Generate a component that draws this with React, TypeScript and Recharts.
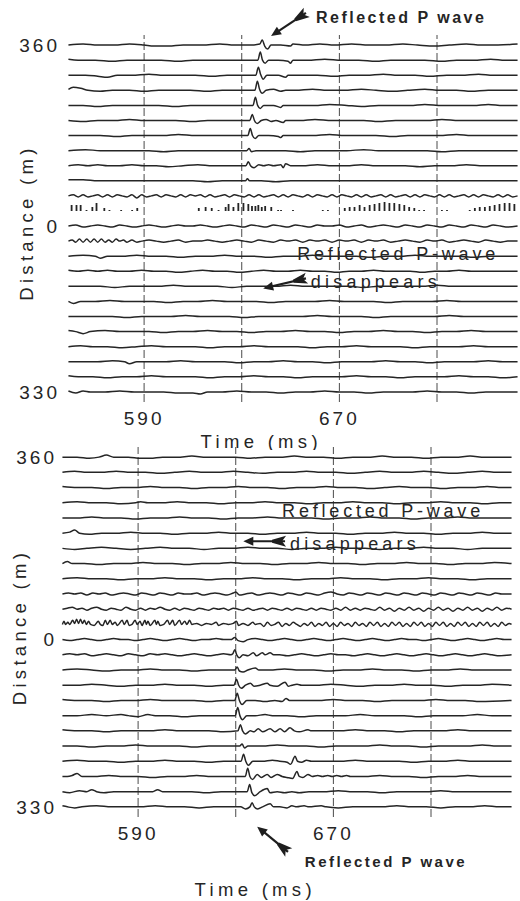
import React from "react";
import {
  LineChart,
  Line,
  XAxis,
  YAxis,
  ReferenceLine,
  ReferenceDot,
} from "recharts";

type Vertex = [number, number];

const INK = "#252525";
const FONT = "'Liberation Sans', Arial, sans-serif";
const GAIN = 2; // metres of offset per unit of trace amplitude

// Time axis (ms)
const timeDomain = [558, 744];
const timeGrid = [590, 630, 670, 710];
const timeLabels = [590, 670];

// Receiver distance (m): above the source row positive, below negative, labelled by size
const offsets = [
  360, 330, 300, 270, 240, 210, 180, 150, 120, 90, 60, 30, 0, -30, -60, -90, -120,
  -150, -180, -210, -240, -270, -300, -330,
];
const distanceTicks = [360, 0, -330];
const distanceDomain = [-350, 380];

// Upper record: traces as [time ms, amplitude] vertices, row at 30 m is a spike row
const upperTraces: (Vertex[] | null)[] = [
  [[559,0],[565,1],[571,0],[578,0],[584,1],[590,0],[594,-1],[600,-1],[606,0],[614,0],[621,1],[627,0],[634,0],[637.4,1],[638.4,5],[639.4,-1],[640.6,-4],[642,0],[646,0],[650,-1],[651,1],[656,0],[662,1],[668,0],[675,1],[682,0],[689,0],[696,1],[702,0],[709,-1],[715,0],[722,1],[728,0],[735,0],[743,1]],
  [[559,1],[563,0],[570,0],[577,-1],[583,0],[590,0],[597,0],[604,-1],[610,0],[617,0],[624,0],[631,0],[636.6,0],[637.6,8],[638.5,0],[639.6,-3],[641,0],[645,0],[649,-1],[650,-3],[651,0],[657,0],[664,1],[671,0],[678,0],[685,-1],[691,0],[698,0],[705,0],[712,-1],[718,0],[725,0],[732,1],[738,0],[743,0]],
  [[559,0],[566,0],[571,-1],[575,-2],[579,0],[585,0],[592,1],[598,0],[605,0],[611,0],[618,-1],[624,0],[630,0],[635.8,0],[636.8,8],[637.7,1],[638.8,-4],[640.3,0],[645,0],[648,-2],[649,0],[655,0],[661,0],[668,-1],[674,0],[681,0],[688,1],[694,0],[701,0],[707,-1],[714,0],[720,0],[727,1],[733,0],[743,0]],
  [[559,1],[561,3],[564,2],[567,0],[572,-1],[577,0],[584,0],[590,-1],[596,0],[603,0],[609,0],[616,-1],[622,0],[629,0],[635.4,0],[636.4,9],[637.3,1],[638.4,-3],[640,0],[643,1],[646,-1],[648,0],[652,0],[659,1],[665,0],[672,0],[679,1],[685,0],[692,-1],[698,0],[705,1],[711,0],[718,0],[724,-1],[731,0],[743,0]],
  [[559,0],[565,0],[571,-1],[577,0],[583,0],[590,0],[596,0],[603,-1],[609,0],[616,0],[622,0],[629,0],[634.6,0],[635.6,8],[636.5,0],[637.6,-3],[639,0],[643,0],[646,-2],[647,0],[653,0],[660,0],[666,1],[673,0],[679,-1],[686,0],[692,0],[699,0],[705,1],[712,0],[718,0],[725,0],[731,1],[737,0],[743,0]],
  [[559,0],[565,-1],[571,0],[578,0],[584,1],[590,0],[597,0],[603,0],[610,-1],[616,0],[623,0],[629,0],[633.3,0],[634.3,6],[635.2,0],[636.3,-3],[638,0],[640,1],[642,-1],[644,0],[647,-2],[648,0],[654,0],[660,1],[667,0],[673,0],[680,0],[686,-1],[693,0],[699,0],[706,0],[712,1],[719,0],[725,0],[732,0],[743,0]],
  [[559,0],[566,0],[572,0],[579,-1],[585,0],[592,0],[598,0],[604,1],[611,0],[617,0],[624,0],[630,0],[632.5,0],[633.5,7],[634.4,0],[635.5,-3],[637,0],[641,0],[645,-1],[646,-2],[647,0],[653,0],[659,0],[666,1],[672,0],[679,0],[685,0],[692,-1],[698,0],[705,0],[711,0],[718,1],[724,0],[731,0],[743,0]],
  [[559,0],[566,1],[572,0],[579,0],[585,0],[592,0],[598,-1],[604,0],[611,0],[617,0],[624,0],[630,0],[632,0],[633,2],[634,-1],[636,0],[642,0],[648,0],[654,-1],[660,0],[667,0],[673,0],[680,1],[686,0],[693,0],[699,0],[706,0],[712,-1],[719,0],[725,0],[732,0],[743,0]],
  [[559,0],[563,1],[567,0],[571,1],[575,0],[580,0],[585,1],[590,0],[595,0],[600,-1],[606,0],[612,1],[618,0],[624,0],[629,0],[631.7,0],[632.7,4],[633.6,0],[635,-2],[637,1],[639,0],[641,1],[643,0],[646,1],[647,-2],[648,2],[650,0],[655,0],[661,1],[667,0],[673,0],[679,1],[685,0],[691,0],[697,0],[703,-1],[709,0],[716,0],[722,1],[729,0],[743,0]],
  [[559,1],[565,1],[571,0],[578,0],[584,0],[590,0],[597,0],[603,0],[610,0],[616,-1],[622,0],[628,0],[631.5,0],[632.3,2],[633.2,0],[638,0],[644,-1],[650,0],[657,0],[663,0],[670,0],[676,0],[683,0],[689,0],[696,0],[702,0],[709,0],[715,0],[722,0],[728,0],[743,0]],
  [[559,0],[561,1],[563,-1],[565,1],[567,-1],[569,0],[571,1],[573,-1],[575,1],[577,-1],[579,1],[581,0],[583,-1],[585,1],[587,-2],[589,1],[591,-1],[593,0],[595,1],[597,-1],[599,1],[601,0],[603,-1],[605,1],[607,-1],[609,1],[611,0],[613,1],[615,-1],[617,1],[619,-1],[621,0],[623,1],[625,-1],[627,1],[629,0],[631,-1],[633,1],[635,-1],[637,1],[639,-1],[641,0],[643,1],[645,-1],[647,1],[649,-1],[651,1],[653,0],[655,-1],[657,1],[659,-1],[661,1],[663,0],[665,-1],[667,1],[669,-1],[671,1],[673,0],[675,-1],[677,1],[679,-1],[681,1],[683,-1],[685,0],[687,1],[689,-1],[691,1],[693,-1],[695,0],[697,1],[699,-1],[701,1],[703,-1],[705,1],[707,0],[709,-1],[711,1],[713,-1],[715,1],[717,-1],[719,0],[721,1],[723,-1],[725,1],[727,-1],[729,1],[731,0],[733,-1],[735,1],[737,-1],[739,1],[741,-1],[743,0]],
  null,
  [[559,0],[562,1],[565,-1],[568,0],[571,1],[574,0],[577,-1],[580,1],[583,0],[586,-1],[589,0],[592,1],[595,0],[598,-1],[601,0],[604,1],[607,0],[610,0],[613,1],[616,0],[619,-1],[622,0],[625,1],[628,0],[631,-1],[634,1],[637,0],[640,-1],[643,1],[646,0],[649,-1],[652,1],[655,0],[658,-1],[661,1],[664,0],[667,0],[670,1],[673,-1],[676,0],[679,1],[682,-1],[685,0],[688,1],[691,0],[694,-1],[697,1],[700,0],[703,-1],[706,1],[709,0],[712,-1],[715,1],[718,0],[721,-1],[724,1],[727,0],[730,-1],[733,1],[736,0],[739,-1],[743,0]],
  [[559,0],[560.5,1],[562,-1],[563.5,2],[565,-1],[566.5,2],[568,-1],[569.5,2],[571,-1],[572.5,2],[574,-1],[575.5,1],[577,-1],[578.5,2],[580,0],[581.5,1],[583,-1],[585,1],[587,-1],[589,0],[592,1],[595,0],[598,-1],[601,0],[604,1],[607,-1],[610,0],[613,0],[616,1],[619,0],[622,-1],[625,0],[628,1],[631,0],[634,-1],[637,1],[640,0],[643,-1],[646,1],[649,0],[652,1],[655,-1],[658,1],[661,0],[664,1],[667,-1],[670,1],[673,0],[676,1],[679,-1],[682,1],[685,0],[688,1],[691,-1],[694,0],[697,1],[700,0],[703,-1],[706,1],[709,0],[712,1],[715,-1],[718,0],[721,1],[724,0],[727,-1],[730,1],[733,0],[736,-1],[739,0],[743,0]],
  [[559,0],[565,1],[570,0],[572,-2],[575,0],[581,0],[587,1],[593,0],[599,0],[605,-1],[611,0],[617,0],[623,1],[629,0],[635,0],[641,-1],[647,0],[653,0],[659,1],[665,0],[671,0],[677,0],[683,-1],[689,0],[695,0],[701,1],[707,0],[713,0],[719,0],[725,-1],[731,0],[737,0],[743,0]],
  [[559,1],[563,0],[567,1],[571,0],[575,1],[579,0],[584,0],[589,1],[594,0],[599,0],[604,-1],[609,0],[614,1],[619,0],[624,0],[629,-1],[634,0],[639,1],[644,0],[649,0],[654,1],[659,0],[664,0],[669,-1],[674,0],[679,0],[684,1],[689,0],[694,0],[699,0],[704,-1],[709,0],[714,0],[719,1],[724,0],[729,0],[734,0],[743,0]],
  [[559,0],[566,0],[572,0],[578,-1],[584,0],[590,0],[596,0],[602,1],[608,0],[614,0],[620,0],[626,-1],[632,0],[638,0],[644,0],[650,1],[656,0],[662,0],[668,0],[674,0],[680,-1],[686,0],[692,0],[698,0],[704,0],[710,1],[716,0],[722,0],[728,0],[734,0],[743,0]],
  [[559,0],[561,-2],[564,0],[570,0],[576,1],[582,0],[588,0],[594,0],[600,-1],[606,0],[612,0],[618,1],[624,0],[630,0],[636,0],[642,-1],[648,0],[654,0],[660,0],[666,1],[672,0],[678,0],[684,0],[690,-1],[696,0],[702,0],[708,0],[714,1],[720,0],[726,0],[732,0],[743,0]],
  [[559,0],[565,0],[571,0],[577,0],[583,-1],[589,0],[595,0],[601,0],[607,1],[613,0],[619,0],[625,0],[631,-1],[637,0],[643,0],[649,0],[655,0],[661,1],[667,0],[673,0],[679,0],[685,-1],[691,0],[697,0],[703,0],[709,0],[715,1],[721,0],[727,0],[733,0],[743,0]],
  [[559,1],[562,0],[565,-2],[568,0],[574,1],[580,0],[586,0],[592,0],[598,-1],[604,0],[610,0],[616,1],[622,0],[628,0],[634,-1],[640,0],[646,0],[652,1],[658,0],[664,0],[670,-1],[676,0],[682,0],[688,1],[694,0],[700,0],[706,-1],[712,0],[718,0],[724,1],[730,0],[736,0],[743,0]],
  [[559,0],[564,1],[569,0],[575,0],[581,-1],[587,0],[593,1],[599,0],[605,0],[611,0],[617,-1],[623,0],[629,0],[635,1],[641,0],[647,0],[653,0],[659,-1],[665,0],[671,0],[677,1],[683,0],[689,0],[695,0],[701,-1],[707,0],[713,0],[719,0],[725,1],[731,0],[737,0],[743,0]],
  [[559,0],[565,0],[571,0],[577,1],[582,0],[584,-2],[587,0],[593,0],[599,0],[605,1],[611,0],[617,0],[623,0],[629,-1],[635,0],[641,0],[647,1],[653,0],[659,0],[665,-1],[671,0],[677,0],[683,0],[689,1],[695,0],[701,0],[707,-1],[713,0],[719,0],[725,0],[731,1],[737,0],[743,0]],
  [[559,1],[563,0],[569,0],[575,-1],[581,0],[587,0],[593,1],[599,0],[605,0],[611,0],[617,-1],[623,0],[629,0],[635,1],[641,0],[647,0],[653,-1],[659,0],[665,0],[671,0],[677,1],[683,0],[689,0],[695,-1],[701,0],[707,0],[713,0],[719,1],[725,0],[731,0],[737,-1],[743,0]],
  [[559,1],[562,-1],[565,1],[568,0],[574,0],[580,1],[586,0],[592,0],[598,0],[604,-1],[610,-1],[613,-2],[616,0],[622,0],[628,1],[634,0],[640,0],[646,-1],[652,0],[658,0],[664,1],[670,0],[676,0],[682,-1],[688,0],[694,0],[700,0],[706,1],[712,0],[718,0],[724,-1],[730,0],[736,0],[743,0]],
];

// Spike row of the upper record (30 m): [time ms, spike height]
const upperSpikeOffset = 30;
const upperSpikes: Vertex[] = [
  [560.3,6],[562.3,6],[564.0,6],[566.4,1],[568.8,4],[570.5,8],[573.7,3],[575.8,1],[580.6,1],[585.1,1],[587.2,3],
  [612.4,3],[615.2,4],[617.7,3],[620.5,1],[623.4,4],[624.6,7],[626.6,4],[628.6,8],[630.7,8],[632.7,7],[634.2,5],[635.6,5],[636.8,6],[638.2,4],[639.6,5],[642.1,4],[644.9,1],
  [646.1,1],[651.0,1],[663.2,1],[665.3,1],
  [672.2,3],[674.2,4],[676.2,4],[678.3,6],[680.3,4],[682.4,6],[684.4,7],[686.4,8],[688.5,9],[690.5,8],[692.5,8],[694.6,7],[696.6,6],[698.6,4],[700.7,3],[702.7,1],[704.7,1],
  [712.0,1],[714.1,1],[723.4,1],[725.5,3],[727.5,4],[729.6,4],[731.6,5],[733.6,6],[735.6,7],[737.7,8],[739.7,8],[741.7,7],
];

// Lower record
const lowerTraces: Vertex[][] = [
  [[559,0],[565,0],[570,-1],[574,0],[577,2],[580,0],[586,0],[591,-1],[595,-1],[600,0],[606,0],[612,1],[618,0],[624,0],[630,0],[636,-1],[642,0],[648,0],[654,1],[660,0],[666,0],[672,-1],[678,0],[684,0],[690,1],[696,0],[702,0],[708,-1],[714,0],[720,0],[726,1],[732,0],[738,0],[743,0]],
  [[559,0],[564,1],[569,0],[575,0],[581,1],[587,0],[593,0],[599,-1],[605,0],[611,1],[617,0],[623,0],[629,1],[635,0],[641,-1],[647,0],[653,0],[659,1],[665,0],[671,0],[677,-1],[683,0],[689,1],[695,0],[701,0],[707,1],[713,0],[719,-1],[725,0],[731,1],[737,0],[743,0]],
  [[559,1],[565,0],[571,0],[577,-1],[583,0],[589,0],[595,1],[601,0],[607,0],[613,-1],[619,0],[625,0],[631,1],[637,0],[643,0],[649,-1],[655,0],[661,0],[667,1],[673,0],[679,0],[685,-1],[691,0],[697,1],[703,0],[709,0],[715,-1],[721,0],[727,0],[733,1],[739,0],[743,0]],
  [[559,0],[565,1],[571,0],[577,0],[583,-1],[589,0],[591,1],[594,0],[600,0],[606,1],[612,0],[618,0],[624,-1],[630,0],[636,0],[642,1],[648,0],[654,0],[660,-1],[666,0],[672,0],[678,1],[684,0],[690,0],[696,-1],[702,0],[708,0],[714,1],[720,0],[726,0],[732,-1],[738,0],[743,0]],
  [[559,0],[565,0],[571,1],[577,0],[583,0],[589,-1],[595,0],[601,0],[607,1],[613,0],[619,0],[625,-1],[631,0],[637,0],[643,1],[649,0],[655,0],[661,0],[667,-1],[673,0],[679,0],[685,1],[691,0],[697,0],[703,-1],[709,0],[715,0],[721,1],[727,0],[733,0],[743,0]],
  [[559,0],[562,1],[564,3],[566,0],[570,-1],[575,0],[581,0],[587,1],[593,0],[599,0],[605,-1],[611,0],[617,0],[623,1],[629,0],[635,0],[641,-1],[647,0],[653,0],[659,1],[665,0],[671,0],[677,-1],[683,0],[689,0],[695,1],[701,0],[707,0],[713,-1],[719,0],[725,0],[731,1],[737,0],[743,0]],
  [[559,0],[564,-1],[569,0],[575,1],[581,0],[587,-1],[593,0],[599,1],[605,0],[611,0],[617,-1],[623,0],[629,0],[635,1],[641,0],[647,0],[653,-1],[659,0],[665,0],[671,1],[677,0],[683,0],[689,-1],[695,0],[701,0],[707,1],[713,0],[719,0],[725,-1],[731,0],[737,0],[743,0]],
  [[559,0],[561,2],[563,0],[568,0],[574,-1],[580,0],[586,0],[592,1],[598,0],[604,0],[610,-1],[616,0],[622,0],[628,1],[634,0],[640,0],[646,-1],[652,0],[658,0],[664,1],[670,0],[676,0],[682,-1],[688,0],[694,0],[700,1],[706,0],[712,0],[718,-1],[724,0],[730,0],[736,1],[743,0]],
  [[559,0],[565,1],[571,0],[577,0],[583,-1],[589,0],[595,0],[601,1],[607,0],[613,0],[619,-1],[625,0],[631,0],[637,1],[643,0],[649,0],[655,-1],[661,0],[667,0],[673,1],[679,0],[685,0],[691,-1],[697,0],[703,0],[709,1],[715,0],[721,0],[727,-1],[733,0],[743,0]],
  [[559,0],[561.5,1],[564,0],[566.5,1],[569,-1],[571.5,1],[574,0],[576.5,1],[579,-1],[581.5,0],[584,1],[586.5,0],[589,-1],[591.5,1],[594,0],[596.5,-1],[599,1],[601.5,0],[604,-1],[606.5,1],[609,0],[611.5,0],[614,1],[616.5,-1],[619,0],[621.5,1],[624,0],[626.5,-1],[629,1],[630,2],[631.5,-1],[634,0],[636.5,1],[639,-1],[641.5,0],[644,1],[646.5,0],[649,-1],[651.5,1],[654,0],[656.5,-1],[659,1],[661.5,0],[664,-1],[666.5,1],[669,2],[671.5,0],[674,-1],[676.5,1],[679,0],[681.5,-1],[684,1],[686.5,0],[689,-1],[691.5,1],[694,0],[696.5,-1],[699,1],[701.5,0],[704,-1],[706.5,1],[709,0],[711.5,-1],[714,1],[716.5,0],[719,-1],[721.5,1],[724,0],[726.5,-1],[729,1],[731.5,0],[734,-1],[736.5,1],[739,0],[743,0]],
  [[559,0],[561,1],[563,2],[565,0],[567,1],[569,-1],[571,1],[573,2],[575,0],[577,-1],[579,1],[581,0],[583,-1],[585,2],[587,0],[589,-1],[591,1],[593,-1],[595,1],[597,0],[599,2],[601,0],[603,-1],[605,1],[607,-1],[609,1],[611,0],[613,-1],[615,1],[617,0],[619,-1],[621,1],[623,0],[625,1],[627,-1],[629,1],[631,0],[633,-1],[635,1],[637,-1],[639,0],[641,1],[643,-1],[645,1],[647,0],[649,-1],[651,1],[653,-1],[655,1],[657,0],[659,-1],[661,1],[663,-1],[665,1],[667,0],[669,-1],[671,1],[673,-1],[675,2],[677,-1],[679,1],[681,-1],[683,1],[685,0],[687,-1],[689,2],[691,-1],[693,1],[695,-2],[697,1],[699,-1],[701,2],[703,-1],[705,1],[707,-2],[709,1],[711,-1],[713,2],[715,-1],[717,1],[719,-2],[721,1],[723,-1],[725,2],[727,-1],[729,1],[731,-2],[733,1],[735,-1],[737,2],[739,-1],[741,1],[743,0]],
  [[559,0],[559.6,3],[560.3,0],[561.2,2],[562,0],[563.2,4],[564,1],[564.8,5],[565.6,1],[566.4,5],[567.2,1],[568,4],[568.8,0],[569.7,3],[570.5,0],[572,-1],[573.7,3],[574.5,0],[575.5,-1],[576.6,4],[577.4,0],[578.6,4],[579.4,0],[580.6,2],[581.5,-1],[583.5,4],[584.3,0],[585.5,4],[586.3,-1],[587.5,0],[588.8,4],[589.6,0],[590.8,3],[591.6,-1],[592.8,4],[593.4,0],[594,3],[595,-1],[596.9,4],[597.5,0],[598.1,3],[599,-1],[600.5,0],[602.1,4],[602.9,0],[604.2,4],[605,-1],[607,4],[607.8,0],[609.1,3],[610,0],[611.1,4],[612,0],[614,1],[616,-1],[618,1],[620,0],[622,2],[623,-1],[625,1],[627,0],[629,1],[630.3,3],[631.2,-1],[633,1],[635,-1],[637,2],[638,0],[640,1],[641.5,-2],[643,2],[644.5,-1],[646,0],[647.5,2],[649,-2],[650.5,1],[652,-1],[653.5,2],[655,0],[656.5,-2],[658,1],[659.5,-1],[661,2],[662.5,-2],[664,1],[665.5,-1],[667,2],[668.5,-2],[670,1],[671.5,-2],[673,2],[674.5,-1],[676,1],[677.5,-2],[679,2],[680.5,-1],[682,1],[683.5,-2],[685,2],[686.5,-1],[688,2],[689.5,-2],[691,1],[692.5,-2],[694,2],[695.5,-1],[697,2],[698.5,-2],[700,1],[701.5,-2],[703,2],[704.5,-1],[706,2],[707.5,-2],[709,1],[710.5,-2],[712,2],[713.5,-1],[715,2],[716.5,-2],[718,1],[719.5,-2],[721,2],[722.5,-1],[724,2],[725.5,-2],[727,1],[728.5,-2],[730,2],[731.5,-1],[733,2],[734.5,-2],[736,1],[737.5,-2],[739,2],[740.5,-1],[742,1],[743,0]],
  [[559,0],[562,-1],[565,0],[568,1],[571,0],[574,-1],[577,0],[580,1],[583,0],[586,0],[589,-1],[592,0],[595,1],[598,0],[601,-1],[604,0],[607,1],[610,0],[613,-1],[616,0],[619,0],[622,1],[625,0],[628,0],[629.6,2],[631,-1],[633,-2],[635,0],[638,1],[641,0],[644,-1],[647,0],[650,1],[653,0],[656,-1],[659,0],[662,1],[665,0],[668,-1],[671,0],[674,1],[677,0],[680,-1],[683,0],[686,1],[689,0],[692,-1],[695,0],[698,1],[701,0],[704,0],[707,-1],[710,0],[713,1],[716,0],[719,-1],[722,0],[725,1],[728,0],[731,-1],[734,0],[737,1],[740,0],[743,0]],
  [[559,0],[562,1],[565,0],[568,1],[571,-1],[574,0],[577,1],[580,0],[583,-1],[586,1],[589,0],[592,-1],[595,1],[598,0],[601,1],[604,0],[607,-1],[610,0],[613,1],[616,0],[619,-1],[622,0],[625,1],[628,0],[628.8,1],[629.6,5],[630.4,0],[631.5,-3],[633,0],[635,-1],[637.2,2],[638.5,-1],[640.9,2],[642,0],[644.1,2],[645.5,0],[648,0],[651,-1],[654,0],[657,1],[660,0],[663,-1],[666,0],[669,1],[672,0],[675,0],[678,-1],[681,0],[684,1],[687,0],[690,-1],[693,0],[696,1],[699,0],[702,-1],[705,0],[708,1],[711,0],[714,-1],[717,0],[720,1],[723,0],[726,-1],[729,0],[732,1],[735,0],[738,-1],[743,0]],
  [[559,0],[565,1],[571,0],[577,-1],[583,0],[589,0],[595,1],[601,0],[607,0],[613,-1],[619,0],[625,0],[629.6,0],[630.6,3],[631.5,-1],[633,-2],[635,0],[638,2],[639.5,0],[644,0],[650,1],[656,0],[662,0],[668,-1],[674,0],[680,0],[686,1],[692,0],[698,0],[704,-1],[710,0],[716,0],[722,1],[728,0],[734,0],[743,0]],
  [[559,0],[565,0],[571,1],[577,0],[583,-1],[589,0],[595,0],[601,1],[607,0],[613,0],[619,-1],[625,0],[629.3,0],[630.3,6],[631.2,0],[632.3,-3],[634,0],[636,2],[637.5,-1],[640,0],[642.9,2],[644,0],[647,-1],[650.2,3],[651.5,-1],[653,0],[655.1,1],[657,0],[663,0],[669,1],[675,0],[681,-1],[687,0],[693,0],[699,1],[705,0],[711,0],[717,-1],[723,0],[729,0],[735,1],[743,0]],
  [[559,1],[565,0],[571,0],[577,-1],[583,0],[589,0],[595,1],[601,0],[607,0],[613,0],[619,-1],[625,0],[629.6,0],[630.6,7],[631.5,0],[632.6,-4],[634.5,0],[638,0],[642,-1],[646,0],[649,-1],[650.6,2],[652,0],[658,0],[664,0],[670,1],[676,0],[682,0],[688,-1],[694,0],[700,0],[706,0],[712,1],[718,0],[724,0],[730,-1],[743,0]],
  [[559,0],[565,0],[571,1],[577,0],[583,1],[586,0],[590,-1],[594,1],[597,0],[603,0],[609,-1],[615,0],[621,0],[627,0],[629.8,0],[630.8,8],[631.7,0],[632.8,-4],[634.5,0],[638,0],[642,1],[645,0],[651,0],[657,-1],[663,0],[669,0],[675,0],[681,1],[687,0],[693,0],[699,0],[705,-1],[711,0],[717,0],[723,0],[729,1],[735,0],[743,0]],
  [[559,1],[565,0],[571,0],[577,-1],[583,0],[589,0],[595,0],[601,1],[607,0],[613,0],[619,0],[625,-1],[630.9,0],[631.9,6],[632.8,0],[634,-3],[636,0],[637.5,-1],[639.2,2],[641,-1],[644.1,2],[646,-1],[648.2,2],[650,-1],[652.2,3],[654,0],[656,-1],[659.6,1],[661,0],[667,0],[673,0],[679,1],[685,0],[691,0],[697,-1],[703,0],[709,0],[715,0],[721,1],[727,0],[733,0],[743,0]],
  [[559,0],[565,0],[571,-1],[577,0],[583,0],[589,1],[595,0],[601,0],[607,0],[613,-1],[619,0],[625,0],[631.6,0],[632.6,2],[633.6,-2],[635,0],[641,0],[647,1],[653,0],[659,0],[665,-1],[671,0],[677,0],[683,0],[689,1],[695,0],[701,0],[707,-1],[713,0],[719,0],[725,0],[731,1],[737,0],[743,0]],
  [[559,0],[565,1],[571,0],[577,0],[583,-1],[589,0],[595,0],[601,1],[607,0],[613,0],[619,-1],[625,0],[632.2,0],[633.2,7],[634.1,0],[635.2,-4],[637,0],[641,0],[645,1],[648,0],[651,-1],[652.5,-3],[654.3,5],[655.3,0],[657,-1],[659,1],[661,0],[667,0],[673,0],[679,1],[685,0],[691,0],[697,0],[703,-1],[709,0],[715,0],[721,1],[727,0],[733,0],[743,0]],
  [[559,0],[561,0],[563,1],[565,3],[567,0],[572,0],[578,1],[584,0],[590,0],[596,-1],[602,0],[608,0],[614,1],[620,0],[626,0],[633.9,0],[634.9,8],[635.8,0],[636.9,-3],[638.8,2],[640.5,-1],[642.9,2],[644.5,-1],[647,2],[649,0],[651,-1],[653.3,-2],[655.1,5],[656,0],[657.5,-1],[659.6,2],[661.3,0],[663.6,1],[665.5,0],[667.7,1],[669.5,0],[671.4,1],[673.3,0],[675.4,1],[677,0],[683,0],[689,1],[695,0],[701,0],[707,-1],[713,0],[719,0],[725,1],[731,0],[737,0],[743,0]],
  [[559,0],[562,-1],[566,1],[569,0],[571,2],[573,0],[576,-1],[580,0],[586,0],[592,0],[596,0],[598,2],[600,0],[606,0],[612,0],[618,-1],[624,0],[630,0],[634.7,0],[635.7,7],[636.6,-1],[637.8,-4],[640,0],[642.9,3],[644,-1],[647,0],[650,-1],[653,0],[656,-1],[660,0],[666,0],[672,1],[678,0],[684,0],[690,-1],[696,0],[702,0],[708,0],[714,1],[720,0],[726,0],[732,0],[743,0]],
  [[559,1],[561,0],[564,-1],[567,0],[573,1],[579,0],[585,0],[591,0],[597,1],[603,0],[609,0],[615,-1],[621,0],[627,0],[632,0],[634,-2],[635.8,0],[636.7,4],[637.6,0],[639,-2],[641,0],[644.1,3],[645.5,0],[648,0],[651,-1],[653,1],[655,0],[658,1],[660,0],[665,1],[667,0],[672,-1],[678,0],[684,0],[690,0],[696,1],[702,0],[708,0],[714,-1],[720,0],[726,0],[732,1],[738,0],[743,0]],
];

// Annotations, in data coordinates [time ms, distance m]
type Arrow = { from: Vertex; to: Vertex };
type Note = { at: Vertex; text: string; size: number; spacing: number; bold?: boolean };

const upperArrows: Arrow[] = [
  { from: [656.3, 424], to: [642, 378] },
  { from: [656.3, -104], to: [638.8, -124] },
];
const upperNotes: Note[] = [
  { at: [660.4, 416], text: "Reflected P wave", size: 16, spacing: 2.5, bold: true },
  { at: [652.7, -54], text: "Reflected P-wave", size: 18, spacing: 3.8 },
  { at: [658.3, -110], text: "disappears", size: 18, spacing: 4.2 },
];
const lowerArrows: Arrow[] = [
  { from: [650.2, 194], to: [633.1, 194] },
  { from: [651.4, -419], to: [638.8, -369] },
];
const lowerNotes: Note[] = [
  { at: [649, 254], text: "Reflected P-wave", size: 18, spacing: 3.8 },
  { at: [652.2, 190], text: "disappears", size: 18, spacing: 4.2 },
  { at: [658.3, -438], text: "Reflected P wave", size: 15, spacing: 2.5, bold: true },
];

const toPoints = (trace: Vertex[], offset: number) =>
  trace.map(([t, a]) => ({ t, v: offset + a * GAIN }));

// each spike is a vertical stroke from the trace baseline, separated by gaps
const toTicks = (spikes: Vertex[], offset: number) =>
  spikes.flatMap(([t, h]) => [
    { t, v: offset },
    { t, v: offset + h * GAIN },
    { t, v: null },
  ]);

const fmtTime = (v: number) => (timeLabels.includes(v) ? String(v) : "");
const fmtDistance = (v: number) => String(Math.abs(v));

const tickStyle = { fill: INK, fontSize: 19, fontFamily: FONT, letterSpacing: 3 };
const titleStyle = { fill: INK, fontSize: 18.5, fontFamily: FONT, letterSpacing: 4.3 };

const timeTitle = (dy: number) => (props: any) => {
  const vb = props.viewBox || { x: 0, y: 0, width: 0, height: 0 };
  return (
    <text
      x={vb.x + vb.width * 0.43}
      y={vb.y + dy}
      textAnchor="middle"
      dominantBaseline="central"
      {...titleStyle}
    >
      Time (ms)
    </text>
  );
};

const distanceTitle = (x: number, dy: number) => (props: any) => {
  const vb = props.viewBox || { x: 0, y: 0, width: 0, height: 0 };
  const cy = vb.y + vb.height / 2 + dy;
  return (
    <text
      x={x}
      y={cy}
      transform={`rotate(-90 ${x} ${cy})`}
      textAnchor="middle"
      dominantBaseline="central"
      {...titleStyle}
    >
      Distance (m)
    </text>
  );
};

// feathered arrow: tail at (x1, y1), head at (x2, y2)
const ArrowShape = (p: any) => {
  const { x1, y1, x2, y2 } = p;
  const len = Math.hypot(x2 - x1, y2 - y1) || 1;
  const ux = (x2 - x1) / len;
  const uy = (y2 - y1) / len;
  const nx = -uy;
  const ny = ux;
  const at = (bx: number, by: number, a: number, b: number) =>
    `${bx + ux * a + nx * b},${by + uy * a + ny * b}`;
  const head = [at(x2, y2, 0, 0), at(x2, y2, -10, 4.5), at(x2, y2, -10, -4.5)].join(" ");
  const tail = [
    at(x1, y1, -1, 5.5),
    at(x1, y1, 13, 1.5),
    at(x1, y1, 13, -1.5),
    at(x1, y1, -1, -5.5),
    at(x1, y1, 3, 0),
  ].join(" ");
  return (
    <g>
      <line x1={x1} y1={y1} x2={x2 - ux * 8} y2={y2 - uy * 8} stroke="#1e1e1e" strokeWidth={2.2} />
      <polygon points={head} fill="#1e1e1e" />
      <polygon points={tail} fill="#1e1e1e" />
    </g>
  );
};

interface PanelProps {
  traces: (Vertex[] | null)[];
  spikes?: Vertex[];
  spikeOffset?: number;
  arrows: Arrow[];
  notes: Note[];
  height: number;
  margin: { top: number; right: number; bottom: number; left: number };
  yWidth: number;
  xHeight: number;
  yTickMargin: number;
  yTitleX: number;
  yTitleDy: number;
  xTitleDy: number;
}

const Panel: React.FC<PanelProps> = ({
  traces,
  spikes,
  spikeOffset,
  arrows,
  notes,
  height,
  margin,
  yWidth,
  xHeight,
  yTickMargin,
  yTitleX,
  yTitleDy,
  xTitleDy,
}) => (
  <LineChart width={520} height={height} margin={margin}>
    <XAxis
      type="number"
      dataKey="t"
      domain={timeDomain}
      ticks={timeGrid}
      tickFormatter={fmtTime}
      axisLine={false}
      tickLine={false}
      tickSize={0}
      tickMargin={10}
      height={xHeight}
      tick={tickStyle}
      interval={0}
      label={timeTitle(xTitleDy)}
    />
    <YAxis
      type="number"
      domain={distanceDomain}
      ticks={distanceTicks}
      tickFormatter={fmtDistance}
      axisLine={false}
      tickLine={false}
      tickSize={0}
      tickMargin={yTickMargin}
      width={yWidth}
      tick={tickStyle}
      interval={0}
      label={distanceTitle(yTitleX, yTitleDy)}
    />
    {/* dashed time markers */}
    {timeGrid.map((t) => (
      <ReferenceLine
        key={`grid-${t}`}
        x={t}
        stroke="#4a4a4a"
        strokeWidth={1}
        strokeDasharray="8 3"
      />
    ))}
    {traces.map((trace, i) =>
      trace ? (
        <Line
          key={`trace-${i}`}
          data={toPoints(trace, offsets[i])}
          dataKey="v"
          type="monotone"
          stroke={INK}
          strokeWidth={1.5}
          dot={false}
          activeDot={false}
          isAnimationActive={false}
        />
      ) : null
    )}
    {spikes && spikeOffset !== undefined && (
      <Line
        data={toTicks(spikes, spikeOffset)}
        dataKey="v"
        type="linear"
        stroke={INK}
        strokeWidth={1.8}
        dot={false}
        activeDot={false}
        connectNulls={false}
        isAnimationActive={false}
      />
    )}
    {arrows.map((a, i) => (
      <ReferenceLine
        key={`arrow-${i}`}
        segment={[
          { x: a.from[0], y: a.from[1] },
          { x: a.to[0], y: a.to[1] },
        ]}
        ifOverflow="visible"
        shape={ArrowShape}
      />
    ))}
    {notes.map((n, i) => (
      <ReferenceDot
        key={`note-${i}`}
        x={n.at[0]}
        y={n.at[1]}
        r={0}
        fill="none"
        stroke="none"
        ifOverflow="visible"
        label={{
          value: n.text,
          position: "right",
          offset: 0,
          fill: INK,
          fontSize: n.size,
          fontFamily: FONT,
          fontWeight: n.bold ? "bold" : "normal",
          letterSpacing: n.spacing,
        }}
      />
    ))}
  </LineChart>
);

export default function App() {
  return (
    <div
      style={{
        position: "absolute",
        left: 0,
        top: 0,
        width: 520,
        height: 901,
        background: "#fff",
        overflow: "hidden",
      }}
    >
      <div style={{ position: "absolute", left: 0, top: 0 }}>
        <Panel
          traces={upperTraces}
          spikes={upperSpikes}
          spikeOffset={upperSpikeOffset}
          arrows={upperArrows}
          notes={upperNotes}
          height={450}
          margin={{ top: 35, right: 0, bottom: 0, left: 0 }}
          yWidth={66}
          xHeight={48}
          yTickMargin={6}
          yTitleX={26}
          yTitleDy={4}
          xTitleDy={39}
        />
      </div>
      <div style={{ position: "absolute", left: 0, top: 440 }}>
        <Panel
          traces={lowerTraces}
          arrows={lowerArrows}
          notes={lowerNotes}
          height={461}
          margin={{ top: 7, right: 6, bottom: 0, left: 0 }}
          yWidth={60}
          xHeight={84}
          yTickMargin={3}
          yTitleX={19}
          yTitleDy={-5}
          xTitleDy={72}
        />
      </div>
    </div>
  );
}
